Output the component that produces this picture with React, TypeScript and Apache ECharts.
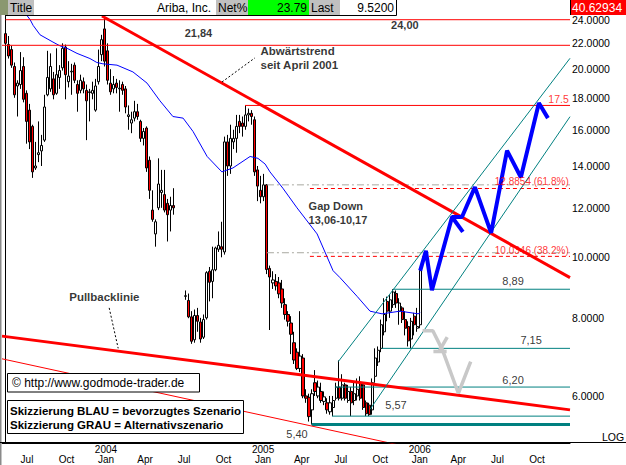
import React, { useEffect, useRef } from 'react';
import * as echarts from 'echarts';

const FONT = "'Liberation Sans', Arial, Helvetica, sans-serif";
const DAY = 86400000;
const WEEK = 7 * DAY;
const FIRST_WEEK = '2003-05-12';
const T0 = Date.parse(FIRST_WEEK);
// x axis unit: weeks since FIRST_WEEK
const weekOf = (date: string) => (Date.parse(date) - T0) / WEEK;

// Weekly candles [open, close, low, high]; null = no quotes that week
const weeklyOHLC: (number[] | null)[] = [
  [22.8, 22.0, 21.7, 24.3], [21.9, 21.0, 20.8, 22.6], [21.5, 20.3, 20.1, 21.8], [20.2, 18.2, 18.0, 20.5],
  [18.8, 19.0, 16.8, 19.2], [18.9, 19.9, 18.6, 21.3], [20.2, 17.9, 17.7, 20.9], [18.3, 16.5, 15.2, 18.5],
  [17.2, 15.3, 14.9, 17.6], [16.2, 13.7, 13.4, 16.3], [13.9, 14.0, 13.8, 15.3], [14.6, 14.7, 14.2, 16.5],
  [14.8, 15.1, 14.0, 15.7], [15.4, 17.4, 15.3, 18.2], [18.2, 19.4, 18.1, 21.4], [18.6, 20.2, 18.4, 21.2],
  [19.3, 18.2, 17.9, 19.8], [18.3, 19.6, 18.2, 21.6], [19.4, 19.9, 18.6, 20.3], [20.1, 21.6, 19.9, 22.0],
  [21.7, 19.6, 17.9, 21.9], [19.1, 19.5, 18.7, 20.6], [19.8, 19.85, 18.2, 20.4], [20.3, 19.2, 19.0, 20.5],
  [18.9, 18.3, 17.1, 19.2], [18.5, 19.2, 18.3, 19.6], [19.1, 18.6, 18.3, 19.4], [18.5, 17.8, 15.4, 18.9],
  [18.35, 18.4, 16.5, 18.6], [18.3, 18.5, 17.9, 19.1], [17.2, 18.8, 17.1, 19.3], [19.1, 20.2, 18.9, 21.5],
  [21.1, 22.3, 20.6, 22.7], [23.2, 20.6, 20.2, 24.3], [21.4, 19.2, 18.9, 22.0], [19.0, 18.4, 18.2, 20.0],
  [18.6, 18.9, 18.3, 19.5], [19.0, 18.7, 18.3, 19.3], [18.6, 18.65, 17.1, 19.2], [18.9, 18.5, 18.2, 19.1],
  [18.6, 17.4, 17.0, 18.8], [16.8, 16.9, 16.0, 17.5], [16.4, 16.6, 15.8, 17.1], [16.7, 17.1, 16.5, 17.8],
  [17.1, 16.8, 16.6, 17.6], [16.5, 15.5, 15.3, 16.6], [15.5, 15.9, 15.1, 16.1], [16.1, 13.9, 13.7, 16.2],
  [14.3, 12.8, 12.4, 14.5], [11.9, 11.5, 11.4, 12.8], [10.9, 11.4, 10.4, 11.5], [12.0, 13.1, 11.9, 14.4],
  [12.7, 12.8, 12.0, 13.8], [12.6, 11.9, 11.8, 13.8], [12.2, 11.7, 10.6, 12.4], [11.9, 12.1, 11.0, 12.5],
  [12.1, 12.0, 11.7, 12.9], null, null, null,
  [8.66, 8.68, 8.55, 8.85], [8.53, 8.03, 7.99, 8.75], [8.03, 7.34, 7.27, 8.2], [7.38, 8.07, 7.3, 8.25],
  [8.07, 7.9, 7.6, 8.3], [7.88, 7.4, 7.3, 8.0], [7.45, 7.95, 7.4, 8.1], [8.0, 9.45, 7.95, 9.5],
  [9.5, 9.12, 8.5, 9.65], [9.15, 9.55, 8.6, 10.4], [9.55, 10.35, 9.5, 10.4], [10.3, 10.45, 10.2, 11.0],
  [10.4, 10.3, 10.0, 11.4], [10.2, 15.3, 10.1, 15.6], [15.3, 14.0, 13.5, 15.7], [14.0, 15.5, 13.6, 16.3],
  [15.3, 15.5, 14.9, 16.0], [15.5, 16.2, 14.7, 16.9], [16.5, 16.2, 15.8, 16.9], [16.4, 16.2, 15.6, 16.8],
  [16.2, 16.9, 16.0, 17.5], [16.9, 17.0, 16.5, 17.3], [17.0, 16.8, 16.3, 17.2], [16.6, 13.7, 13.5, 16.8],
  [13.8, 13.0, 12.3, 14.0], [12.8, 12.5, 12.2, 13.5], [12.5, 13.06, 12.3, 13.6], [13.06, 9.56, 9.4, 13.1],
  [9.6, 9.3, 7.65, 9.7], [9.1, 9.2, 8.9, 9.5], [9.15, 9.0, 8.85, 9.4], [9.1, 8.74, 8.6, 9.3],
  [8.9, 8.45, 8.3, 9.2], [8.4, 8.1, 7.95, 8.6], [8.1, 7.9, 7.75, 8.2], [7.85, 7.53, 7.0, 8.05],
  [7.3, 6.85, 6.75, 7.6], [7.05, 6.64, 6.6, 7.15], [6.64, 6.95, 6.55, 8.2], [6.9, 6.0, 5.95, 7.0],
  [6.0, 5.95, 5.85, 6.15], [5.97, 5.56, 5.46, 6.05], [5.7, 6.05, 5.4, 6.15], [6.3, 6.1, 6.0, 6.6],
  [6.0, 6.2, 5.95, 6.35], [6.1, 5.9, 5.85, 6.3], [5.88, 5.98, 5.8, 6.1], [5.85, 5.7, 5.62, 5.95],
  [5.66, 5.85, 5.6, 6.0], [5.75, 5.9, 5.57, 6.0], [5.95, 6.2, 5.9, 6.3], [6.2, 5.95, 5.9, 6.84],
  [5.95, 6.25, 5.9, 6.5], [6.25, 5.95, 5.9, 6.3], [5.9, 6.1, 5.85, 6.25], [6.1, 5.85, 5.57, 6.2],
  [5.9, 6.05, 5.8, 6.3], [6.0, 6.15, 5.9, 6.4], [6.3, 5.95, 5.9, 6.45], [6.25, 5.75, 5.7, 6.3],
  [5.85, 5.62, 5.57, 5.9], [5.8, 5.6, 5.57, 5.85], [5.7, 6.3, 5.6, 6.4], [6.45, 6.9, 6.3, 7.15],
  [6.8, 7.1, 6.7, 7.2], [7.15, 7.8, 7.05, 7.95], [7.6, 8.1, 7.5, 8.6], [8.5, 8.2, 7.9, 8.65],
  [8.2, 8.55, 8.0, 8.7], [8.4, 8.8, 8.3, 8.89], [8.75, 8.45, 8.3, 8.85], [8.2, 8.45, 7.8, 8.6],
  [8.3, 7.95, 7.85, 8.35], [7.95, 7.7, 7.5, 8.2], [7.75, 7.35, 7.2, 7.9], [7.4, 7.9, 7.15, 8.0],
  [8.05, 7.8, 7.5, 8.15], [7.7, 7.75, 7.6, 8.3], [7.8, 9.52, 7.7, 9.55],
];

// Moving average (blue), [week index, price]
const maPoints: number[][] = [
  [6.5, 24.6], [8.2, 24.0], [9.2, 23.5], [11.5, 22.7], [15.8, 22.1], [18.1, 21.8], [20.5, 21.6],
  [23.8, 21.2], [28.1, 20.8], [30.4, 20.5], [32.4, 20.4], [37.1, 20.3], [42.4, 19.8], [47.1, 19.0],
  [51.4, 17.8], [55.7, 16.8], [59.1, 16.7], [62.4, 15.9], [67.1, 14.5], [72.0, 13.7], [75.7, 13.9],
  [81.4, 14.5], [84.0, 14.4], [86.4, 14.1], [88.0, 13.7], [92.3, 12.9], [97.0, 12.0], [103.7, 10.9],
  [109.0, 9.52], [111.3, 9.28], [117.0, 8.66], [121.3, 8.2], [125.3, 8.12], [131.3, 8.2], [137.3, 8.12],
  [138, 8.15453],
];

const xTickDates = ['2003-07-01', '2003-10-01', '2004-01-01', '2004-04-01', '2004-07-01', '2004-10-01',
  '2005-01-01', '2005-04-01', '2005-07-01', '2005-10-01', '2006-01-01', '2006-04-01', '2006-07-01', '2006-10-01'];
const monthNames = ['Jan', 'Feb', 'Mar', 'Apr', 'May', 'Jun', 'Jul', 'Aug', 'Sep', 'Oct', 'Nov', 'Dec'];
const yTickValues = [6, 8, 10, 12, 14, 16, 18, 20, 22, 24];

const Y_MIN = 5.045;
const Y_MAX = 24.42;
const K_MIN = -1.165;
const K_MAX = 187.85;

const lastClose = 9.52;
const maLast = 8.15453;
const netPct = 23.79;
const topMarker = 40.62934;

const resistanceLevels = [24.0, 21.84, 17.5];
const resistanceFrom = [0, K_MIN, 79.7];
const supportLevels = [8.89, 7.15, 6.2, 5.57, 5.4];
const supportFrom = [128.95, 125.2, 109.6, 108.65, 101.9];
const fibLevels = [12.8854, 10.0346];
const fibFrom = 101.3;
const gapLevels = [13.06, 10.17];
const gapFrom = 87;

const downTrend = [[32.1, 24.33], [K_MAX, 9.28]];
const pullbackLine = [[K_MIN, 7.48], [K_MAX, 5.7]];
const lowerTrend = [[K_MIN, 6.88], [140, 4.9]];
const channelUpper = [[110.75, 6.81], [K_MAX, 20.82]];
const channelLower = [[121.3, 5.71], [K_MAX, 16.79]];

const blueScenario = [[138, 9.52], [139.9, 10.24], [141.9, 8.86], [148.6, 11.6], [151.9, 11.6], [156.2, 12.95],
  [161.6, 10.94], [166.9, 14.82], [171.5, 13.43], [177.5, 17.66], [180.5, 16.7]];
const blueTail = [[148.6, 11.6], [152.2, 10.98]];
const greyScenario = [[138.8, 7.63], [142.2, 7.63], [145.4, 7.11], [150.7, 6.06], [154.8, 6.81]];
const greyCrossA = [[147.0, 7.45], [144.4, 7.09]];
const greyCrossB = [[142.4, 7.07], [146.8, 7.07]];
const leaderTrend = [[72.05, 19.08], [83.0, 20.85]];
const leaderPullback = [[34.5, 8.3], [37.5, 7.15]];

type Ann = { text: string; k: number; p: number; side: 'left' | 'right' | 'center'; bold?: boolean; size: number; color?: string };
const annotations: Ann[] = [
  { text: '24,00', k: 132.9, p: 23.54, side: 'center', bold: true, size: 11 },
  { text: '21,84', k: 64.2, p: 22.85, side: 'center', bold: true, size: 11 },
  { text: 'Abwärtstrend\nseit April 2001', k: 84.7, p: 20.85, side: 'left', bold: true, size: 11.5 },
  { text: 'Gap Down\n13,06-10,17', k: 100.7, p: 11.77, side: 'left', bold: true, size: 11 },
  { text: 'Pullbacklinie', k: 32.9, p: 8.64, side: 'center', bold: true, size: 11.5 },
  { text: '8,89', k: 168.9, p: 9.16, side: 'center', size: 11 },
  { text: '7,15', k: 174.9, p: 7.37, side: 'center', size: 11 },
  { text: '6,20', k: 168.9, p: 6.36, side: 'center', size: 11 },
  { text: '5,57', k: 129.95, p: 5.8, side: 'center', size: 11 },
  { text: '5,40', k: 97, p: 5.22, side: 'center', size: 11 },
  { text: '17.5', k: 187.6, p: 17.92, side: 'right', size: 10.5, color: '#ff0000' },
  { text: '12.8854 (61.8%)', k: 187.6, p: 13.2, side: 'right', size: 10, color: '#ff0000' },
  { text: '10.0346 (38.2%)', k: 187.6, p: 10.27, side: 'right', size: 10, color: '#ff0000' },
];

function lineSeries(pts: number[][], color: string, width: number, type: any = 'solid', z = 3) {
  return {
    type: 'line',
    data: pts.map(([k, p]) => [k, p]),
    symbol: 'none',
    silent: true,
    clip: true,
    z,
    lineStyle: { color, width, type, cap: 'butt' },
    animation: false,
  };
}

function buildOption() {
  const candleData = weeklyOHLC
    .map((r, k) => (r ? [k, r[0], r[1], r[2], r[3]] : null))
    .filter((d) => d !== null);

  const series: any[] = [];

  series.push({
    type: 'candlestick',
    data: candleData,
    encode: { x: 0, y: [1, 2, 3, 4] },
    barWidth: 2.6,
    z: 2,
    silent: true,
    itemStyle: {
      color: '#ffffff', color0: '#ff0000', borderColor: '#000000', borderColor0: '#000000',
      borderColorDoji: '#000000', borderWidth: 1,
    },
    markLine: {
      silent: true, symbol: ['none', 'none'], animation: false,
      lineStyle: { opacity: 0 },
      label: {
        show: true, position: 'end', distance: 1, formatter: lastClose.toFixed(4), color: '#ffffff',
        backgroundColor: '#000000', padding: [2, 3, 2, 2], width: 50, fontSize: 10.5, fontFamily: FONT,
      },
      data: [{ yAxis: lastClose }],
    },
  });

  series.push({
    ...lineSeries(maPoints, '#0000ff', 1, 'solid', 3),
    markLine: {
      silent: true, symbol: ['none', 'none'], animation: false,
      lineStyle: { opacity: 0 },
      label: {
        show: true, position: 'end', distance: 1, formatter: String(maLast), color: '#ffffff',
        backgroundColor: '#0000ff', padding: [2, 3, 2, 2], width: 50, fontSize: 10.5, fontFamily: FONT,
      },
      data: [{ yAxis: maLast }],
    },
  });

  resistanceLevels.forEach((p, i) => series.push(lineSeries([[resistanceFrom[i], p], [K_MAX, p]], '#ff0000', 1)));
  supportLevels.forEach((p, i) =>
    series.push(lineSeries([[supportFrom[i], p], [K_MAX, p]], '#008080', p === 5.4 ? 3 : 1)));
  fibLevels.forEach((p) => series.push(lineSeries([[fibFrom, p], [K_MAX, p]], '#ff0000', 1, [4, 3])));
  gapLevels.forEach((p) => series.push(lineSeries([[gapFrom, p], [K_MAX, p]], '#a8a8a0', 1, [7, 3, 2, 3])));

  series.push(lineSeries(downTrend, '#ff0000', 3, 'solid', 4));
  series.push(lineSeries(pullbackLine, '#ff0000', 3, 'solid', 4));
  series.push(lineSeries(lowerTrend, '#ff0000', 1, 'solid', 4));
  series.push(lineSeries(channelUpper, '#008080', 1, 'solid', 4));
  series.push(lineSeries(channelLower, '#008080', 1, 'solid', 4));
  series.push(lineSeries(leaderTrend, '#000000', 1, [2, 2], 4));
  series.push(lineSeries(leaderPullback, '#000000', 1, [2, 2], 4));

  series.push(lineSeries(greyScenario, '#c8c8c8', 3.5, 'solid', 5));
  series.push(lineSeries(greyCrossA, '#c8c8c8', 3.5, 'solid', 5));
  series.push(lineSeries(greyCrossB, '#c8c8c8', 3.5, 'solid', 5));
  series.push(lineSeries(blueScenario, '#0000ff', 4, 'solid', 6));
  series.push(lineSeries(blueTail, '#0000ff', 4, 'solid', 6));

  series.push({
    type: 'scatter',
    silent: true,
    z: 8,
    clip: false,
    symbolSize: 1,
    itemStyle: { color: 'transparent' },
    data: annotations.map((a) => ({
      value: [a.k, a.p],
      label: {
        show: true,
        formatter: a.text,
        position: a.side === 'left' ? 'right' : a.side === 'right' ? 'left' : 'inside',
        distance: 0,
        color: a.color || '#000000',
        fontSize: a.size,
        fontWeight: a.bold ? 'bold' : 'normal',
        fontFamily: FONT,
        lineHeight: 14,
      },
    })),
  });

  const txt = (x: number, y: number, text: string, o: any = {}) => ({
    type: 'text', x, y, silent: true, z: 101,
    style: {
      text, fill: o.color || '#000', fontSize: o.size || 12, fontFamily: FONT,
      fontWeight: o.bold ? 'bold' : 'normal', align: o.align || 'left', verticalAlign: 'middle',
    },
  });
  const rect = (x: number, y: number, w: number, h: number, fill: string, stroke?: string) => ({
    type: 'rect', silent: true, z: 100,
    shape: { x, y, width: w, height: h },
    style: { fill, stroke: stroke || 'none', lineWidth: stroke ? 1 : 0 },
  });
  const ln = (x1: number, y1: number, x2: number, y2: number, stroke: string, w = 1) => ({
    type: 'line', silent: true, z: 100,
    shape: { x1, y1, x2, y2 },
    style: { stroke, lineWidth: w },
  });

  const graphic: any[] = [
    rect(0, 0, 8, 15, '#8a9870'),
    rect(8, 0, 26, 15, '#c0c0c0'),
    txt(10, 8, 'Title'),
    rect(34, 0, 182, 15, '#ffffff'),
    txt(211, 8, 'Ariba, Inc.', { align: 'right' }),
    rect(216, 0, 32, 15, '#c0c0c0'),
    txt(218, 8, 'Net%'),
    rect(248, 0, 61, 15, '#00ff00'),
    txt(307, 8, netPct.toFixed(2), { align: 'right' }),
    rect(309, 0, 31, 15, '#c0c0c0'),
    txt(311, 8, 'Last'),
    rect(340, 0, 56, 15, '#ffffff'),
    txt(394, 8, lastClose.toFixed(4), { align: 'right' }),
    ln(5, 15.5, 396.5, 15.5, '#000'),
    ln(396.5, 0, 396.5, 15.5, '#000'),
    rect(571, 0, 55, 15, '#ff0000'),
    txt(572, 8, String(topMarker), { color: '#ffffff' }),
    ln(570.5, 0, 570.5, 15, '#000'),
    rect(0, 15, 1.5, 450, '#8a8a8a'),
    ln(0, 442.5, 626, 442.5, '#000'),
    txt(602, 437, 'LOG', { size: 10.5 }),
    rect(7.5, 373.5, 192, 18.5, '#ffffff', '#000000'),
    txt(12, 383, '© http://www.godmode-trader.de', { size: 12 }),
    rect(7.5, 400.5, 236, 33, '#ffffff', '#000000'),
    txt(10, 410.5, 'Skizzierung BLAU = bevorzugtes Szenario', { size: 11.5, bold: true }),
    txt(10, 424.5, 'Skizzierung GRAU = Alternativszenario', { size: 11.5, bold: true }),
  ];

  return {
    animation: false,
    backgroundColor: '#ffffff',
    grid: { left: 2, right: 56, top: 15, bottom: 22, containLabel: false },
    xAxis: {
      type: 'value',
      min: K_MIN,
      max: K_MAX,
      axisLine: { show: true, onZero: false, lineStyle: { color: '#000', width: 1 } },
      axisTick: { show: false },
      splitLine: { show: false },
      axisLabel: {
        customValues: xTickDates.map(weekOf),
        formatter: (v: number) => {
          const d = new Date(T0 + v * WEEK + DAY / 2);
          const m = d.getUTCMonth();
          return m === 0 ? `${d.getUTCFullYear()}\n${monthNames[m]}` : ` \n${monthNames[m]}`;
        },
        color: '#000',
        fontSize: 10,
        fontFamily: FONT,
        lineHeight: 10.5,
        margin: 1,
      },
    },
    yAxis: [
      {
        type: 'log',
        position: 'right',
        min: Y_MIN,
        max: Y_MAX,
        axisLine: { show: true, lineStyle: { color: '#000', width: 1 } },
        axisTick: { show: false },
        axisLabel: { show: false },
        splitLine: { show: false },
      },
      {
        type: 'value',
        position: 'right',
        min: Math.log(Y_MIN),
        max: Math.log(Y_MAX),
        axisLine: { show: false },
        axisTick: { show: false },
        splitLine: { show: false },
        axisLabel: {
          customValues: yTickValues.map((v) => Math.log(v)),
          formatter: (v: number) => Math.exp(v).toFixed(4),
          color: '#000',
          fontSize: 10.5,
          fontFamily: FONT,
          margin: 2,
        },
      },
    ],
    series,
    graphic,
  };
}

export default function App() {
  const ref = useRef<HTMLDivElement>(null);
  useEffect(() => {
    if (!ref.current) return;
    const chart = echarts.init(ref.current, undefined, { renderer: 'svg', width: 626, height: 465 });
    chart.setOption(buildOption() as any);
    return () => chart.dispose();
  }, []);
  return (
    <div
      ref={ref}
      style={{ position: 'absolute', left: 0, top: 0, width: 626, height: 465, background: '#fff' }}
    />
  );
}
